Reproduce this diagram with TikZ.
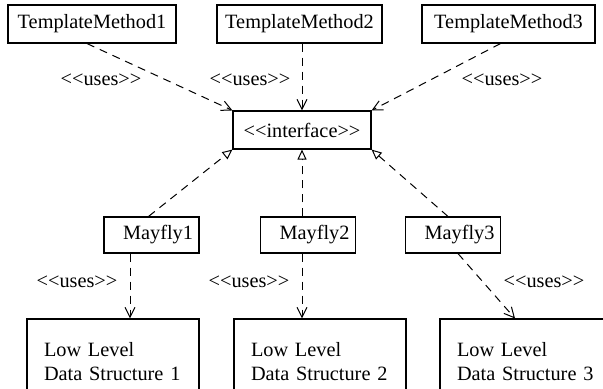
\documentclass[tikz,border=0pt]{standalone}
\usepackage{fontspec}
\setmainfont{Liberation Serif}[Ligatures=TeXOff]
\usetikzlibrary{arrows.meta}

\tikzset{
  box/.style={draw, line width=0.55pt, minimum height=19pt, inner sep=0pt},
  mayfly/.style={box, minimum height=18pt, text width=41.5pt, align=right, inner xsep=3pt},
  lowlevel/.style={box, minimum height=43pt, text width=69pt, align=left, inner xsep=8.5pt},
  uses/.style={line width=0.5pt, dash pattern=on 4pt off 3pt,
    -{Straight Barb[length=5pt,width=5pt,line width=0.5pt]}},
  realizes/.style={line width=0.5pt, dash pattern=on 4pt off 3pt,
    -{Triangle[open,length=5pt,width=4.5pt,line width=0.5pt]}},
  stereo/.style={inner sep=1pt}
}

\begin{document}
\begin{tikzpicture}[x=0.5pt, y=-0.5pt, font=\fontsize{10.15}{12}\selectfont]
  \useasboundingbox (0,0) rectangle (603,388);

  % the three template methods along the top
  \node[box, minimum width=84pt]   (tm1) at (92,24)    {TemplateMethod1};
  \node[box, minimum width=82.5pt] (tm2) at (299.5,24) {TemplateMethod2};
  \node[box, minimum width=86.5pt] (tm3) at (508.5,24) {TemplateMethod3};

  \node[box, minimum width=69pt] (iface) at (302,130) {<<interface>>};

  % mayflies realize the interface
  \node[mayfly] (m1) at (151.5,235) {Mayfly1};
  \node[mayfly] (m2) at (308,235)   {Mayfly2};
  \node[mayfly] (m3) at (453,235)   {Mayfly3};

  % low level structures, cut off by the page edge
  \node[lowlevel] (ds1) at (113,362) {Low Level\\Data Structure 1};
  \node[lowlevel] (ds2) at (320,362) {Low Level\\Data Structure 2};
  \node[lowlevel] (ds3) at (526,362) {Low Level\\Data Structure 3};

  % uses: template methods -> interface
  \draw[uses] ([xshift=-2.5pt]tm1.south) -- (iface.north west);
  \draw[uses] (iface.north |- tm2.south) -- (iface.north);
  \draw[uses] ([xshift=-4pt]tm3.south) -- (iface.north east);

  \node[stereo] (u1) at (101,80) {<<uses>>};
  \node[stereo] (u2) at (250,80) {<<uses>>};
  \node[stereo] (u3) at (502,80) {<<uses>>};

  % realization: mayflies -> interface
  \draw[realizes] ([xshift=-1.5pt]m1.north) -- (iface.south west);
  \draw[realizes] (iface.south |- m2.north) -- (iface.south);
  \draw[realizes] ([xshift=-2.5pt]m3.north) -- (iface.south east);

  % uses: mayflies -> data structures
  \draw[uses] ([xshift=-10.75pt]m1.south) -- ([xshift=-10.75pt]m1.south |- ds1.north);
  \draw[uses] (iface.south |- m2.south) -- (iface.south |- ds2.north);
  \draw[uses] ([xshift=2.5pt]m3.south) -- ([xshift=-5.5pt]ds3.north);

  \node[stereo] (u4) at (77,282)  {<<uses>>};
  \node[stereo] (u5) at (249,282) {<<uses>>};
  \node[stereo] (u6) at (544,282) {<<uses>>};
\end{tikzpicture}
\end{document}
